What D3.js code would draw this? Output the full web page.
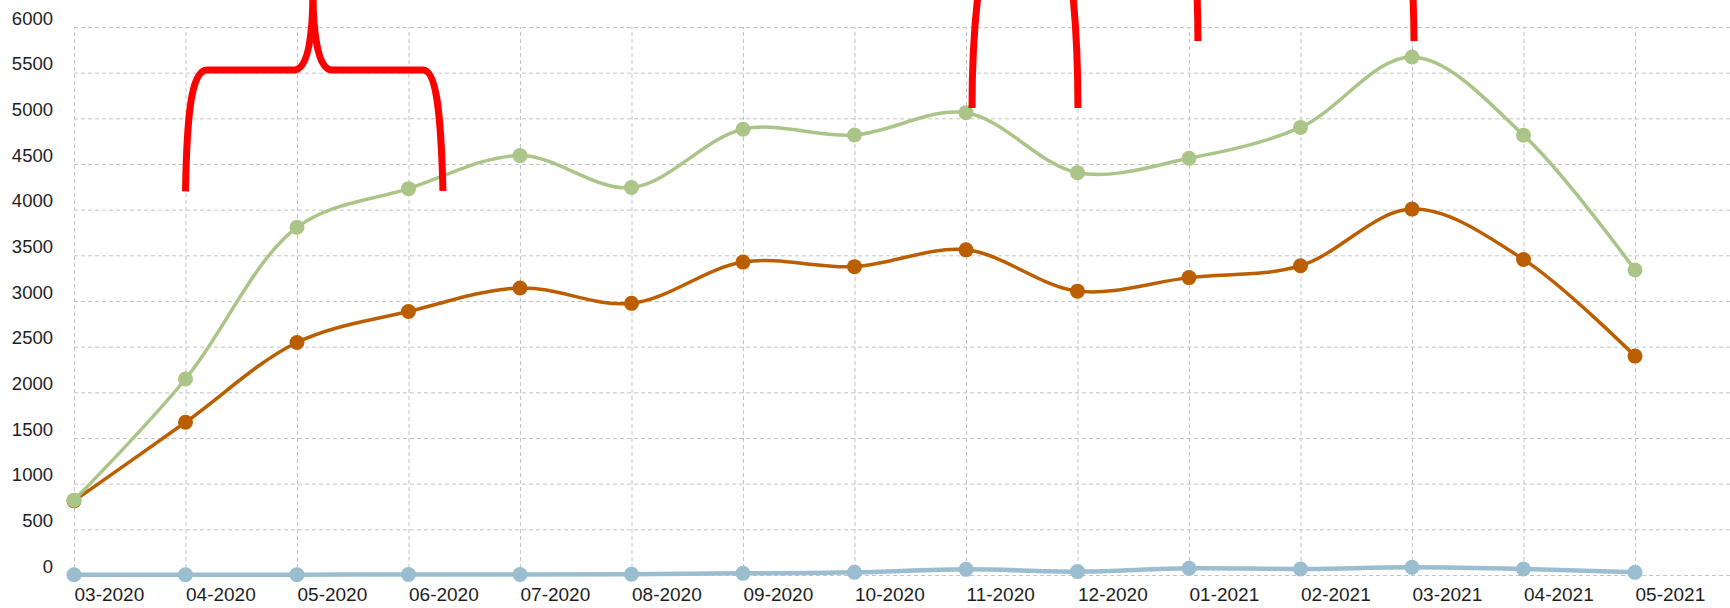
<!DOCTYPE html>
<html>
<head>
<meta charset="utf-8">
<script src="https://cdn.jsdelivr.net/npm/d3@7"></script>
<style>
  body { margin: 0; background: #fff; }
  svg { display: block; font-family: "Liberation Sans", Arial, sans-serif; }
</style>
</head>
<body>
<div id="chart"></div>
<script>
// months on the x axis
const months = ['03-2020', '04-2020', '05-2020', '06-2020', '07-2020', '08-2020', '09-2020',
    '10-2020', '11-2020', '12-2020', '01-2021', '02-2021', '03-2021', '04-2021', '05-2021']

// series values
const greenVals = [818, 2146, 3807, 4230, 4592, 4242, 4880, 4818, 5062, 4405, 4562, 4901, 5672, 4816, 3339]
const orangeVals = [812, 1672, 2546, 2885, 3143, 2974, 3426, 3376, 3560, 3108, 3256, 3386, 4006, 3455, 2397]
const blueVals = [2, 3, 4, 5, 6, 8, 18, 29, 62, 37, 73, 66, 84, 66, 29]

const yTicks = [0, 500, 1000, 1500, 2000, 2500, 3000, 3500, 4000, 4500, 5000, 5500, 6000]

// red hand drawn marks, as [month index, value] points (cubic segments)
const braceLeft = [[1, 4200], [1.013, 5091], [1.058, 5529], [1.193, 5530], [1.982, 5530], [2.09, 5551], [2.134, 5858], [2.143, 6300]]
const braceRight = [[2.143, 6300], [2.152, 5858], [2.197, 5551], [2.305, 5530], [3.13, 5530], [3.247, 5530], [3.291, 5091], [3.309, 4204]]
const markA = [[8.054, 5113], [8.054, 5640], [8.074, 6022], [8.112, 6400]]
const markB = [[9.004, 5113], [9.004, 5640], [8.987, 6022], [8.955, 6400]]
const markC = [[10.08, 5847], [10.08, 6100], [10.076, 6250], [10.07, 6400]]
const markD = [[12.018, 5847], [12.018, 6100], [12.012, 6250], [12.006, 6400]]

const width = 1730
const height = 608
const plotLeft = 74, plotRight = 1635, plotTop = 27, plotBottom = 575

const svg = d3.select('#chart').append('svg')
    .attr('width', width).attr('height', height)

const x = d3.scalePoint().domain(months).range([plotLeft, plotRight])
const xi = d3.scaleLinear().domain([0, months.length - 1]).range([plotLeft, plotRight])
const y = d3.scaleLinear().domain([0, 6000]).range([plotBottom, plotTop])

// grid
const hGrid = svg.append('g').attr('transform', `translate(${plotLeft},0)`)
    .call(d3.axisLeft(y).tickValues(yTicks).tickSize(-(width - plotLeft)).tickFormat(''))
hGrid.select('.domain').remove()
hGrid.selectAll('line').attr('stroke', '#c4c4c4').attr('stroke-dasharray', '4,3')

const vGrid = svg.append('g').attr('transform', `translate(0,${plotBottom})`)
    .call(d3.axisBottom(x).tickSize(-(plotBottom - plotTop)).tickFormat(''))
vGrid.select('.domain').remove()
vGrid.selectAll('line').attr('stroke', '#c4c4c4').attr('stroke-dasharray', '4,3')

// y labels
const yAxis = svg.append('g').attr('transform', `translate(${plotLeft},0)`)
    .call(d3.axisLeft(y).tickValues(yTicks).tickSize(0).tickPadding(21).tickFormat(d3.format('d')))
yAxis.select('.domain').remove()
yAxis.selectAll('text').attr('dy', -3).attr('fill', '#1e1e1e')
    .style('font-size', '18.5px').style('font-family', '"Liberation Sans", Arial, sans-serif')

// x labels
const xAxis = svg.append('g').attr('transform', `translate(0,${plotBottom})`)
    .call(d3.axisBottom(x).tickSize(0))
xAxis.select('.domain').remove()
xAxis.selectAll('text').attr('y', 26).attr('dy', 0).attr('text-anchor', 'start').attr('fill', '#1e1e1e')
    .style('font-size', '19px').style('font-family', '"Liberation Sans", Arial, sans-serif')

const line = d3.line()
    .x((d, i) => x(months[i]))
    .y(d => y(d))
    .curve(d3.curveCatmullRom)

const series = [
    { vals: blueVals, color: '#9bbdd0', w: 4.5 },
    { vals: orangeVals, color: '#bb5e00', w: 3.5 },
    { vals: greenVals, color: '#abc488', w: 3.5 }
]

series.forEach(s => {
    svg.append('path').datum(s.vals)
        .attr('d', line)
        .attr('fill', 'none')
        .attr('stroke', s.color)
        .attr('stroke-width', s.w)
    svg.selectAll(null).data(s.vals).enter().append('circle')
        .attr('cx', (d, i) => x(months[i]))
        .attr('cy', d => y(d))
        .attr('r', 7.5)
        .attr('fill', s.color)
})

// red marks
const bez = pts => {
    const p = pts.map(d => [xi(d[0]), y(d[1])])
    let s = `M${p[0][0]},${p[0][1]}`
    for (let i = 1; i + 2 < p.length; i += 3) {
        s += `C${p[i][0]},${p[i][1]} ${p[i + 1][0]},${p[i + 1][1]} ${p[i + 2][0]},${p[i + 2][1]}`
        if (i + 3 < p.length) {
            // straight piece between cubic parts
            s += `L${p[i + 3][0]},${p[i + 3][1]}`
            i += 1
        }
    }
    return s
}

const redMarks = [braceLeft, braceRight, markA, markB, markC, markD]
svg.selectAll('.red').data(redMarks).enter().append('path')
    .attr('class', 'red')
    .attr('d', bez)
    .attr('fill', 'none')
    .attr('stroke', '#ff0000')
    .attr('stroke-width', 7)
    .attr('stroke-linejoin', 'round')
</script>
</body>
</html>
